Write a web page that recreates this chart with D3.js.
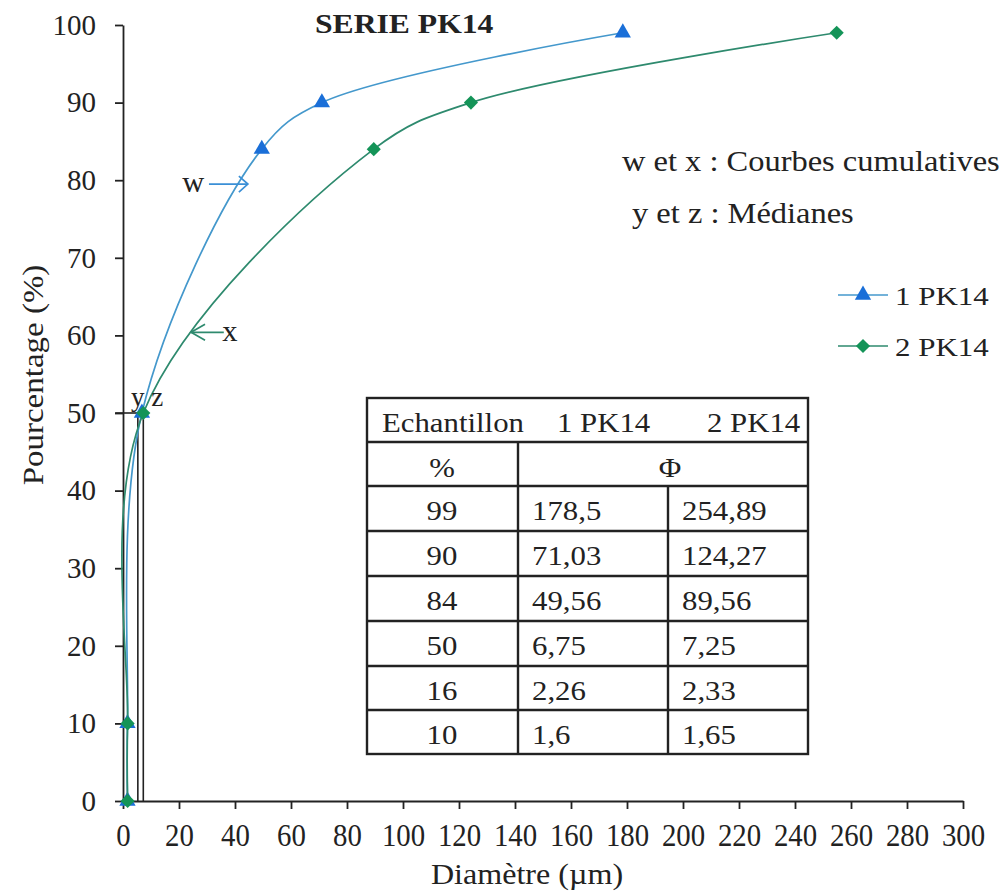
<!DOCTYPE html>
<html><head><meta charset="utf-8">
<script src="https://cdn.jsdelivr.net/npm/d3@7"></script>
<style>
body{margin:0;background:#fff;}
svg text{font-family:"Liberation Serif","Tinos","DejaVu Serif",serif !important;fill:#222;}
</style></head>
<body><svg id="c" width="1006" height="893"></svg>
<script>
const percents = [0, 10, 50, 84, 90, 99];
const series1 = [1.6, 1.6, 6.75, 49.56, 71.03, 178.5];
const series2 = [1.65, 1.65, 7.25, 89.56, 124.27, 254.89];
const seriesNames = ["1 PK14", "2 PK14"];
const medians = [5.3, 7.25];
const xTicks = d3.range(0, 301, 20);
const yTicks = d3.range(0, 101, 10);
const tableHeader = ["Echantillon", "1 PK14", "2 PK14"];
const tablePct = ["99", "90", "84", "50", "16", "10"];
const table1 = ["178,5", "71,03", "49,56", "6,75", "2,26", "1,6"];
const table2 = ["254,89", "124,27", "89,56", "7,25", "2,33", "1,65"];

const svg = d3.select("#c");
const x = d3.scaleLinear().domain([0, 300]).range([123, 963]);
const y = d3.scaleLinear().domain([0, 100]).range([801, 25]);

function txt(parent, px, py, s, size, sx, anchor, extra) {
  const t = parent.append("text")
    .attr("transform", `translate(${px},${py})${extra || ""} scale(${sx},1)`)
    .attr("text-anchor", anchor || "start")
    .style("font-size", size + "px").text(s);
  return t;
}

const styles = [
  {line: "#4498cc", fill: "#1a6fd8", d: d3.symbol().type(d3.symbolTriangle).size(115)(), rot: 0},
  {line: "#2e8a6e", fill: "#149458", d: d3.symbol().type(d3.symbolSquare).size(100)(), rot: 45}
];

// axes
const xa = svg.append("g").attr("transform", "translate(0,801)")
  .call(d3.axisBottom(x).tickValues(xTicks).tickSize(8).tickSizeOuter(0).tickPadding(14));
const ya = svg.append("g").attr("transform", `translate(${x(0)},0)`)
  .call(d3.axisLeft(y).tickValues(yTicks).tickSize(8).tickSizeOuter(0).tickPadding(19));
[xa, ya].forEach(a => {
  a.attr("font-family", null).attr("font-size", null);
  a.selectAll("path,line").attr("stroke", "#222").attr("stroke-width", 1.8);
  a.selectAll("text").attr("fill", "#222");
});
xa.selectAll("text").style("font-size", "32px").attr("transform", "scale(0.9,1)");
ya.selectAll("text").style("font-size", "29px");

txt(svg, 527, 884, "Diamètre (µm)", 30, 1.07, "middle");
txt(svg, 43, 375, "Pourcentage  (%)", 30, 1.1, "middle", " rotate(-90)");
txt(svg, 315, 33, "SERIE PK14", 28, 1.13, "start").style("font-weight", "bold");

// median lines
const mg = svg.append("g").attr("stroke", "#222").attr("stroke-width", 1.6);
medians.forEach(m => {
  mg.append("line").attr("x1", x(m)).attr("x2", x(m)).attr("y1", y(0)).attr("y2", y(50));
});
mg.append("line").attr("x1", x(-2.8)).attr("x2", x(d3.max(medians))).attr("y1", y(50)).attr("y2", y(50));

// series
const line = d3.line().x(d => x(d[0])).y(d => y(d[1])).curve(d3.curveCatmullRom.alpha(0.5));
[series1, series2].forEach((s, i) => {
  const pts = s.map((v, j) => [v, percents[j]]);
  svg.append("path").datum(pts).attr("d", line).attr("fill", "none")
    .attr("stroke", styles[i].line).attr("stroke-width", 1.7);
  svg.append("g").selectAll("path").data(pts).join("path")
    .attr("transform", d => `translate(${x(d[0])},${y(d[1])}) rotate(${styles[i].rot})`)
    .attr("d", styles[i].d)
    .attr("fill", styles[i].fill);
});

// annotations
function arrow(x1, x2, yy, color, hl, hw) {
  const g = svg.append("g").attr("stroke", color).attr("stroke-width", 1.7).attr("fill", "none");
  g.append("line").attr("x1", x(x1)).attr("x2", x(x2)).attr("y1", y(yy)).attr("y2", y(yy));
  const dir = x2 > x1 ? -1 : 1;
  const tx = x(x2), ty = y(yy);
  g.append("path").attr("d", `M${tx + dir * hl},${ty - hw} L${tx},${ty} L${tx + dir * hl},${ty + hw}`);
}
arrow(30.7, 44.6, 79.5, "#3a8fd6", 9, 8);
txt(svg, x(25.1), y(79.5) + 8, "w", 29, 1.05, "middle");
arrow(36, 24.3, 60.4, "#2e8a6e", 14, 8);
txt(svg, x(38.2), y(60.4) + 9, "x", 29, 1.05, "middle");
txt(svg, 131, 406, "y z", 27, 1.0, "start");

txt(svg, 622, 171, "w et x : Courbes cumulatives", 29, 1.12, "start");
txt(svg, 632, 223, "y et z : Médianes", 29, 1.12, "start");

// legend
seriesNames.forEach((n, i) => {
  const ly = 295 + i * 51;
  svg.append("line").attr("x1", 838).attr("x2", 888).attr("y1", ly).attr("y2", ly)
    .attr("stroke", styles[i].line).attr("stroke-width", 1.7);
  svg.append("path").attr("transform", `translate(863,${ly}) rotate(${styles[i].rot})`)
    .attr("d", styles[i].d).attr("fill", styles[i].fill);
  txt(svg, 895, ly + 10, n, 26, 1.19, "start");
});

// table
const tL = 367, tR = 808, c1 = 518, c2 = 668;
const rows = [398, 442, 486, 531, 576, 621, 666, 710, 754];
const tg = svg.append("g");
const ts = 2.4;
tg.append("rect").attr("x", tL).attr("y", rows[0]).attr("width", tR - tL).attr("height", rows[8] - rows[0])
  .attr("fill", "#fff").attr("stroke", "#222").attr("stroke-width", ts);
rows.slice(1, 8).forEach(r => tg.append("line").attr("x1", tL).attr("x2", tR).attr("y1", r).attr("y2", r).attr("stroke", "#222").attr("stroke-width", ts));
tg.append("line").attr("x1", c1).attr("x2", c1).attr("y1", rows[1]).attr("y2", rows[8]).attr("stroke", "#222").attr("stroke-width", ts);
tg.append("line").attr("x1", c2).attr("x2", c2).attr("y1", rows[2]).attr("y2", rows[8]).attr("stroke", "#222").attr("stroke-width", ts);
const fs = 27.5, tsx = 1.12;
[[382, tableHeader[0]], [557, tableHeader[1]], [707, tableHeader[2]]].forEach(([tx, t]) =>
  txt(tg, tx, rows[0] + 34, t, fs, tsx, "start"));
txt(tg, 442, rows[1] + 35, "%", fs, tsx, "middle");
txt(tg, 670, rows[1] + 35, "Φ", fs, tsx, "middle");
tablePct.forEach((p, i) => {
  const ty = rows[i + 2] + 34;
  txt(tg, 442, ty, p, fs, tsx, "middle");
  txt(tg, 532, ty, table1[i], fs, tsx, "start");
  txt(tg, 682, ty, table2[i], fs, tsx, "start");
});
</script></body></html>
